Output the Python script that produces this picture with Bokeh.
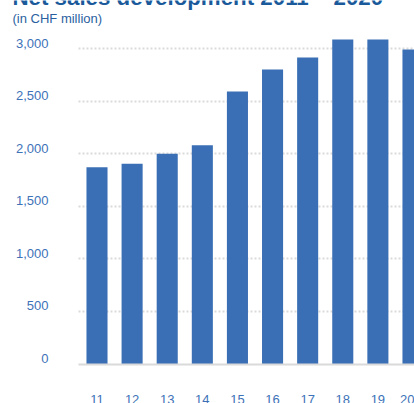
from bokeh.plotting import figure
from bokeh.models import (Range1d, LinearAxis, Grid, FixedTicker, NumeralTickFormatter,
                          Label, ColumnDataSource)
from bokeh.embed import file_html
from bokeh.resources import INLINE

# ---- data ----
years = [11, 12, 13, 14, 15, 16, 17, 18, 19, 20]
net_sales = [1870, 1905, 2000, 2080, 2590, 2800, 2915, 3085, 3085, 2990]
y_ticks = [0, 500, 1000, 1500, 2000, 2500, 3000]
title_text = "Net sales development 2011 \u2013 2020"
subtitle_text = "(in CHF million)"

# ---- styles / layout ----
BAR = "#3a6fb5"
TICK = "#3d72b8"
TITLE = "#1a5a9b"
SUB = "#2a5f9f"
GRID = "#dadada"
FONT = "Liberation Sans"

W, H = 414, 403
LEFT = 78            # plot area left (px)
BASE = 363.5         # canvas y of value 0
TOP_PX = 48          # canvas y of 3000
ppu = (BASE - TOP_PX) / 3000.0
y0 = -(H - BASE) / ppu
y1 = BASE / ppu
pitch = 35.11
first_center = 96.5
x0 = years[0] - first_center / pitch
x1 = years[0] + (W - first_center) / pitch
x_left = years[0] - (first_center - LEFT) / pitch
label_shift = 5.5 / ppu

p = figure(width=W, height=H, x_range=Range1d(x0, x1), y_range=Range1d(y0, y1),
           min_border=0,
           x_axis_location=None, y_axis_location=None,
           toolbar_location=None, output_backend="svg",
           outline_line_color=None)
p.background_fill_color = "white"
p.border_fill_color = "white"
for g in list(p.grid):
    g.visible = False

p.extra_y_ranges = {"lab": Range1d(y0 - label_shift, y1 - label_shift)}

grid = Grid(dimension=1, ticker=FixedTicker(ticks=y_ticks[1:]),
            cross_bounds=(x_left, x1),
            grid_line_color=GRID, grid_line_width=2, grid_line_dash="2 2")
p.add_layout(grid)

src = ColumnDataSource(dict(year=years, sales=net_sales))
p.vbar(x="year", top="sales", bottom=0, width=0.6, source=src,
       fill_color=BAR, line_color=None)

yaxis = LinearAxis(y_range_name="lab", ticker=FixedTicker(ticks=y_ticks),
                   fixed_location=x_left,
                   formatter=NumeralTickFormatter(format="0,0"),
                   axis_line_color=None, major_tick_line_color=None,
                   minor_tick_line_color=None, major_tick_out=0, major_tick_in=0,
                   major_label_standoff=30, major_label_text_color=TICK,
                   major_label_text_font_size="13px", major_label_text_font=FONT)
p.add_layout(yaxis, "left")

xaxis = LinearAxis(ticker=FixedTicker(ticks=years), fixed_location=0,
                   bounds=(x_left, x1),
                   axis_line_color=GRID, axis_line_width=2,
                   major_tick_line_color=None, minor_tick_line_color=None,
                   major_tick_out=0, major_tick_in=0,
                   major_label_standoff=31, major_label_text_color=TICK,
                   major_label_text_font_size="13px", major_label_text_font=FONT)
p.add_layout(xaxis, "below")

tx = x0 + 12 / pitch
p.add_layout(Label(x=tx, y=(BASE + 3) / ppu, text=title_text, text_font=FONT,
                   text_font_style="bold", text_font_size="22.3px", text_color=TITLE,
                   text_baseline="alphabetic", text_align="left"))
p.add_layout(Label(x=tx, y=(BASE - 18) / ppu, text=subtitle_text, text_font=FONT,
                   text_font_size="13px", text_color=SUB,
                   text_baseline="alphabetic", text_align="left"))

open("out.html", "w").write(file_html(p, INLINE))
